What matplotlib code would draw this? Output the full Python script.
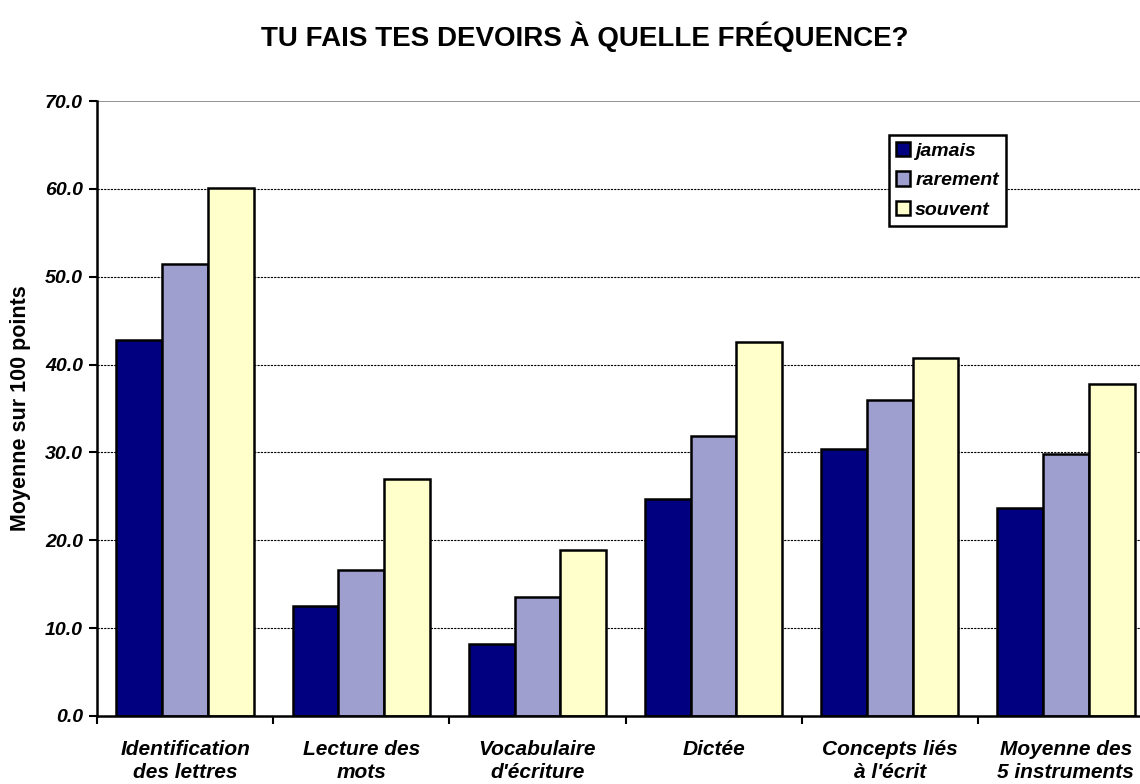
import matplotlib
matplotlib.use("Agg")
import matplotlib.pyplot as plt
import numpy as np

plt.rcParams['font.family'] = ['Liberation Sans', 'DejaVu Sans']

categories = ["Identification\ndes lettres", "Lecture des\nmots", "Vocabulaire\nd'écriture",
              "Dictée", "Concepts liés\nà l'écrit", "Moyenne des\n5 instruments"]
series_names = ["jamais", "rarement", "souvent"]
jamais = [42.8, 12.5, 8.2, 24.7, 30.4, 23.7]
rarement = [51.5, 16.6, 13.6, 31.9, 36.0, 29.8]
souvent = [60.1, 27.0, 18.9, 42.6, 40.7, 37.8]
colors = ["#000080", "#9f9fcf", "#ffffcc"]
yticks = [0, 10, 20, 30, 40, 50, 60, 70]

fig = plt.figure(figsize=(11.4, 7.84), dpi=100)
ax = fig.add_axes([97/1140, 68/784, 1057/1140, 615/784])

x = np.arange(len(categories))
w = 0.26
for i, (vals, name, c) in enumerate(zip([jamais, rarement, souvent], series_names, colors)):
    ax.bar(x + (i - 1) * w, vals, w, color=c, edgecolor="black", linewidth=1.8, label=name, zorder=3)

ax.set_xlim(-0.5, len(categories) - 0.5)
ax.set_ylim(0, 70)
ax.set_yticks(yticks)
ax.set_yticklabels([f"{v:.1f}" for v in yticks], fontsize=14, fontweight="bold", fontstyle="italic")
for v in yticks[1:-1]:
    ax.axhline(v, color="black", linestyle=(0, (2, 1)), linewidth=0.8, zorder=1)
ax.axhline(70, color="#808080", linewidth=1.2, zorder=1)

ax.set_xticks(x)
ax.set_xticklabels(categories, fontsize=15, fontweight="bold", fontstyle="italic", linespacing=1.3)
ax.tick_params(axis="x", length=0, pad=17)
ax.set_xticks(np.arange(len(categories)) - 0.5, minor=True)
ax.tick_params(axis="x", which="minor", length=6, width=1.5, direction="out")
ax.tick_params(axis="y", length=6, width=1.5, direction="out", pad=4)

for s in ["top", "right"]:
    ax.spines[s].set_visible(False)
for s in ["left", "bottom"]:
    ax.spines[s].set_linewidth(1.8)
    ax.spines[s].set_zorder(4)

ax.set_ylabel("Moyenne sur 100 points", fontsize=15.5, fontweight="bold", labelpad=10)
fig.text(585/1140, 0.972, "TU FAIS TES DEVOIRS À QUELLE FRÉQUENCE?", fontsize=20, fontweight="bold",
         ha="center", va="top")

leg = ax.legend(loc="upper left", bbox_to_anchor=((889 - 97) / 1057, (716 - 135) / 615),
                prop={"size": 14, "weight": "bold", "style": "italic"},
                frameon=True, fancybox=False, edgecolor="black", framealpha=1,
                handlelength=0.75, handleheight=0.75, handletextpad=0.25,
                borderpad=0.35, labelspacing=0.6, borderaxespad=0)
leg.get_frame().set_linewidth(1.8)
leg.set_zorder(5)

fig.savefig("out.png", dpi=100)
